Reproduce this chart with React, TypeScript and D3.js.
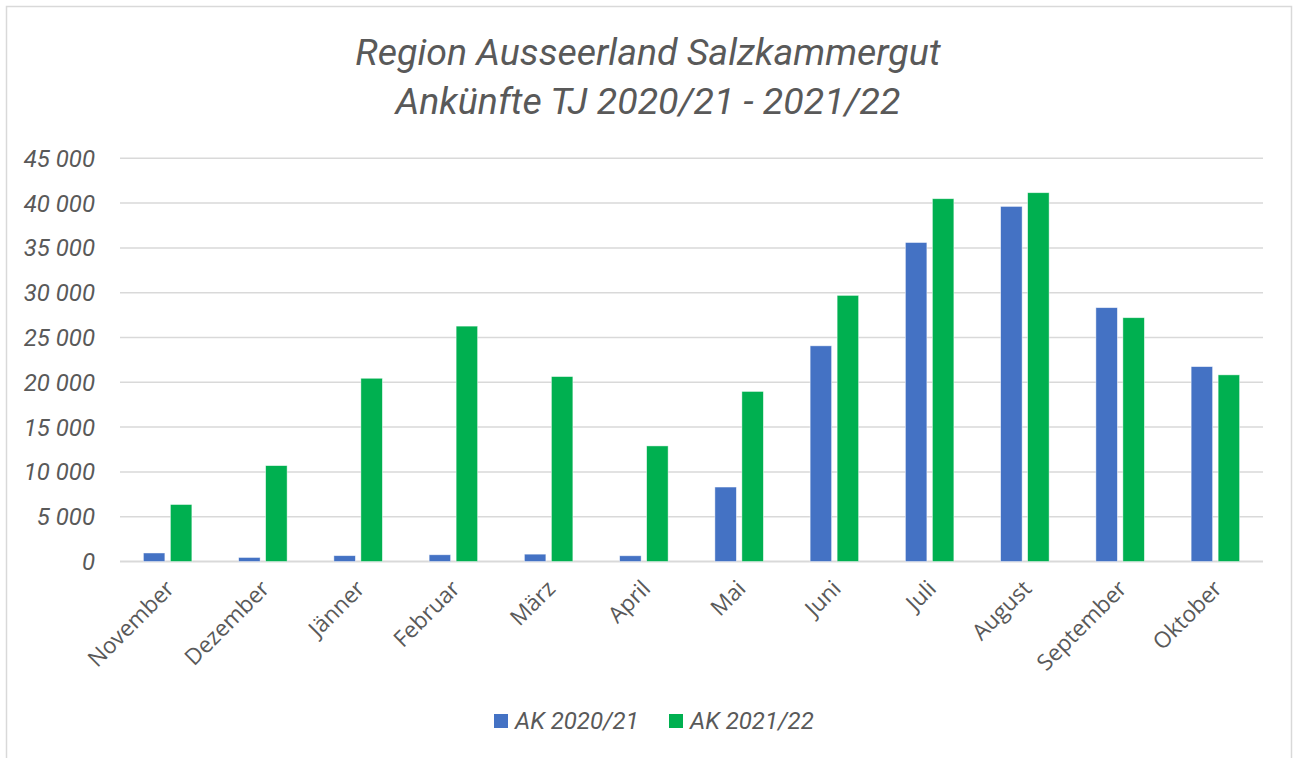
import * as d3 from "d3";

// Ankünfte pro Monat, Tourismusjahr Nov–Okt
const months = [
  "November", "Dezember", "Jänner", "Februar", "März", "April",
  "Mai", "Juni", "Juli", "August", "September", "Oktober",
];
const ak2021 = [950, 450, 650, 750, 820, 640, 8310, 24070, 35600, 39630, 28330, 21750];
const ak2122 = [6360, 10700, 20450, 26270, 20640, 12900, 18980, 29700, 40490, 41160, 27210, 20830];
const seriesNames = ["AK 2020/21", "AK 2021/22"];
const yTicks = [0, 5000, 10000, 15000, 20000, 25000, 30000, 35000, 40000, 45000];

const colors = ["#4472C4", "#00B050"];
const W = 1298;
const H = 758;
const textColor = "#595959";

export default function App() {
  const x0 = d3
    .scaleBand<string>()
    .domain(months)
    .range([120, 1263])
    .paddingInner(0.491)
    .paddingOuter(0.2455);

  const x1 = d3
    .scaleBand<string>()
    .domain(seriesNames)
    .range([0, x0.bandwidth()])
    .paddingInner(0.204);

  const y = d3.scaleLinear().domain([0, 45000]).range([561.5, 158.3]);

  const fmt = d3
    .formatLocale({ decimal: ",", thousands: " ", grouping: [3], currency: ["", ""] })
    .format(",d");

  const rows = months.map((m, i) => ({ month: m, values: [ak2021[i], ak2122[i]] }));

  return (
    <svg
      width={W}
      height={H}
      style={{ position: "absolute", left: 0, top: 0, background: "#fff" }}
    >
      <rect x={0} y={0} width={W} height={H} fill="#fff" />
      <rect
        x={6.5}
        y={6.5}
        width={1285}
        height={H + 10}
        fill="none"
        stroke="#d9d9d9"
        strokeWidth={1.5}
      />

      {/* Titel */}
      <g
        fontFamily="Roboto"
        fontStyle="italic"
        fontSize={37.5}
        fill={textColor}
        textAnchor="middle"
      >
        <text x={648} y={65}>Region Ausseerland Salzkammergut</text>
        <text x={648} y={114}>Ankünfte TJ 2020/21 - 2021/22</text>
      </g>

      {/* Gitterlinien + y-Achse */}
      {yTicks.map((t) => (
        <g key={t}>
          <line
            x1={120}
            x2={1263}
            y1={y(t)}
            y2={y(t)}
            stroke="#d9d9d9"
            strokeWidth={t === 0 ? 2 : 1.5}
          />
          <text
            x={95}
            y={y(t)}
            dy="0.35em"
            textAnchor="end"
            fontFamily="Roboto"
            fontStyle="italic"
            fontSize={24}
            fill={textColor}
          >
            {fmt(t)}
          </text>
        </g>
      ))}

      {/* Balken */}
      {rows.map((r) => (
        <g key={r.month} transform={`translate(${x0(r.month)},0)`}>
          {r.values.map((v, j) => (
            <rect
              key={j}
              x={x1(seriesNames[j])}
              y={y(v)}
              width={x1.bandwidth()}
              height={y(0) - y(v)}
              fill={colors[j]}
              stroke="#ffffff"
              strokeOpacity={0.6}
              strokeWidth={0.75}
            />
          ))}
        </g>
      ))}

      {/* x-Achse Beschriftung */}
      {months.map((m) => {
        const cx = (x0(m) ?? 0) + x0.bandwidth() / 2 + 8;
        return (
          <text
            key={m}
            transform={`translate(${cx},590) rotate(-45)`}
            textAnchor="end"
            fontFamily="'Open Sans'"
            fontWeight={400}
            fontSize={22.5}
            fill={textColor}
          >
            {m}
          </text>
        );
      })}

      {/* Legende */}
      <g fontFamily="Roboto" fontStyle="italic" fontSize={24} fill={textColor}>
        <rect x={494} y={714} width={14} height={14} fill={colors[0]} />
        <text x={515} y={729}>{seriesNames[0]}</text>
        <rect x={669} y={714} width={14} height={14} fill={colors[1]} />
        <text x={690} y={729}>{seriesNames[1]}</text>
      </g>
    </svg>
  );
}
